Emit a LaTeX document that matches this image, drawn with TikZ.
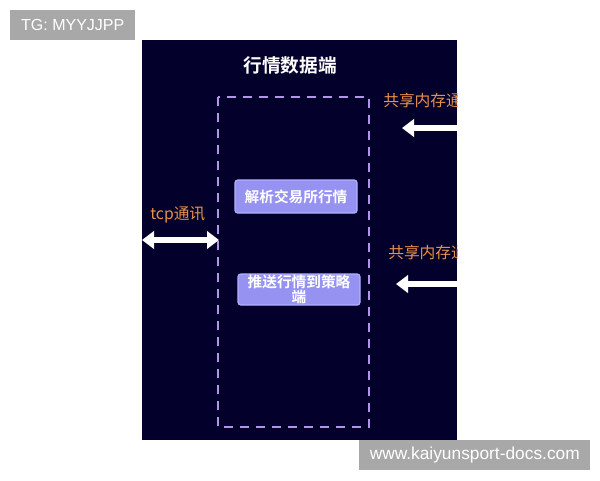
\documentclass[tikz,border=0pt]{standalone}
\usepackage{fontspec}
\setmainfont{Liberation Sans}
\newfontfamily\cjk{Noto Sans CJK SC}
\newfontfamily\cjkb{Noto Sans CJK SC Bold}
\usetikzlibrary{arrows.meta}
\definecolor{panelbg}{HTML}{03002B}
\definecolor{boxfill}{HTML}{9692F2}
\definecolor{boxedge}{HTML}{B4B0FF}
\definecolor{dashcol}{HTML}{B494E8}
\definecolor{orangetxt}{HTML}{E8914A}
\definecolor{tagbg}{HTML}{A8A8A8}
\tikzset{
  tag/.style={fill=tagbg, text=white, inner sep=0pt},
  procbox/.style={fill=boxfill, draw=boxedge, line width=0.8pt, rounded corners=2pt, text=white,
     font=\cjkb\fontsize{11}{11.5}\selectfont, align=center, inner sep=0pt},
  lbl/.style={text=orangetxt, font=\cjk\fontsize{11.8}{13}\selectfont, anchor=west, inner sep=0pt},
  fatarrow/.style={draw=white, line width=4.4pt, -{Triangle[length=9pt,width=13pt]}},
  fatdouble/.style={draw=white, line width=4.4pt, {Triangle[length=9pt,width=13pt]}-{Triangle[length=9pt,width=13pt]}},
}
\begin{document}
\begin{tikzpicture}[x=0.75pt,y=-0.75pt]
\useasboundingbox (0,0) rectangle (600,480);
\fill[white] (0,0) rectangle (600,480);
% dark panel
\node[fill=panelbg, minimum width=315*0.75pt, minimum height=400*0.75pt, inner sep=0pt, anchor=north west] (panel) at (142,40) {};
\begin{scope}
\clip (142,40) rectangle (457,440);
\node[text=white, font=\cjkb\fontsize{14}{16}\selectfont] (title) at (290,65) {行情数据端};
\draw[dashcol, line width=1.3pt, dash pattern=on 7pt off 5pt] (218,97) rectangle (369,427);
\coordinate (frameL) at (219,240);
\node[procbox, minimum width=122*0.75pt, minimum height=33*0.75pt] (parse) at (296,196.5) {解析交易所行情};
\node[procbox, minimum width=122*0.75pt, minimum height=31*0.75pt] (push) at (299,289.5) {推送行情到策略\\端};
\node[lbl] (tcp) at (150,215) {tcp通讯};
\coordinate (tcpL) at (142,240);
\draw[fatdouble] (tcpL) -- (frameL);
\node[lbl] (shm1) at (383,100) {共享内存通信};
\coordinate (a1s) at (460,128);
\coordinate (a1e) at (402,128);
\draw[fatarrow] (a1s) -- (a1e);
\node[lbl] (shm2) at (388,252) {共享内存通信};
\coordinate (a2s) at (460,284);
\coordinate (a2e) at (396,284);
\draw[fatarrow] (a2s) -- (a2e);
\end{scope}
% watermark tags
\node[tag, font=\fontsize{12}{14}\selectfont, minimum width=125*0.75pt, minimum height=30*0.75pt, anchor=north west] (tg) at (10,10) {TG: MYYJJPP};
\node[tag, font=\fontsize{13}{15}\selectfont, minimum width=231*0.75pt, minimum height=30*0.75pt, anchor=north west] (site) at (359,440) {www.kaiyunsport-docs.com};
\end{tikzpicture}
\end{document}
